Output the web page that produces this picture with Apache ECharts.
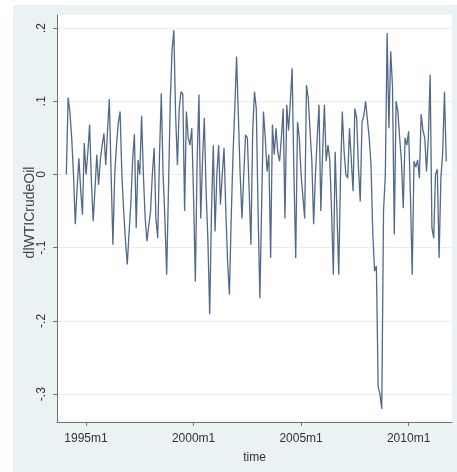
<!DOCTYPE html>
<html>
<head>
<meta charset="utf-8">
<script src="https://cdn.jsdelivr.net/npm/echarts@6/dist/echarts.min.js"></script>
<style>
  html, body { margin: 0; padding: 0; background: #ffffff; }
  #main { width: 457px; height: 472px; }
</style>
</head>
<body>
<div id="main"></div>
<script>
// monthly series, Stata %tm months (1960m1 = 0), first point 1994m2
var startMonth = 409
var dlWTI = [
  0.0, 0.105, 0.085, 0.05, 0.0, -0.068, -0.02, 0.022, -0.02, -0.055, 0.043,
  0.0, 0.03, 0.068, -0.01, -0.064, -0.02, 0.027, -0.014, 0.02, 0.04, 0.056, 0.013,
  0.06, 0.103, 0.0, -0.096, 0.0, 0.04, 0.07, 0.086, 0.0, -0.05, -0.09, -0.123,
  -0.08, -0.04, 0.02, 0.055, -0.073, 0.02, 0.0, 0.08, 0.0, -0.06, -0.091, -0.07,
  -0.05, 0.0, 0.036, -0.06, -0.087, 0.027, 0.111, 0.0, -0.06, -0.137, -0.02, 0.1,
  0.17, 0.197, 0.08, 0.013, 0.09, 0.113, 0.11, -0.05, 0.086, 0.05, 0.04, 0.063,
  -0.03, -0.146, 0.02, 0.109, -0.06, 0.02, 0.077, -0.023, -0.09, -0.191, -0.05, 0.04,
  -0.078, 0.0, 0.04, -0.041, 0.0, 0.036, -0.05, -0.12, -0.164, -0.06, 0.027, 0.09,
  0.161, 0.08, 0.0, -0.06, 0.0, 0.054, 0.05, -0.02, -0.096, 0.06, 0.113, 0.09,
  -0.05, -0.169, -0.04, 0.086, 0.05, 0.004, 0.027, -0.114, 0.068, 0.027, 0.063, 0.03,
  0.018, 0.05, 0.09, -0.06, 0.095, 0.06, 0.1, 0.145, 0.0, -0.114, 0.072, 0.05,
  0.0, -0.03, -0.06, 0.122, 0.104, 0.06, 0.018, -0.068, 0.0, 0.05, 0.095, -0.05,
  0.03, 0.095, 0.018, 0.04, 0.02, -0.05, -0.137, 0.031, -0.05, -0.137, 0.0, 0.086,
  0.031, 0.0, -0.005, 0.063, 0.02, -0.023, 0.09, 0.077, 0.01, -0.037, 0.072, 0.08,
  0.1, 0.1, 0.05, 0.013, -0.08, -0.132, -0.125, -0.29, -0.30, -0.32, -0.05, 0.0,
  0.193, 0.063, 0.168, 0.12, -0.082, 0.1, 0.086, 0.05, 0.018, -0.046, 0.05, 0.04,
  0.059, -0.028, -0.137, 0.018, 0.01, 0.02, -0.005, 0.082, 0.06, 0.05, 0.004, 0.05,
  0.136, -0.073, -0.087, 0.0, 0.007, -0.114, -0.005, 0.03, 0.113, 0.018
]
var xTickValues = [420, 480, 540, 600]
var xTickLabels = ['1995m1', '2000m1', '2005m1', '2010m1']
var yTickValues = [-0.3, -0.2, -0.1, 0, 0.1, 0.2]
var yTickLabels = ['-.3', '-.2', '-.1', '0', '.1', '.2']

var points = dlWTI.map(function (v, i) { return [startMonth + i, v] })

var myChart = echarts.init(document.getElementById('main'))
var option = {
  animation: false,
  backgroundColor: '#ffffff',
  textStyle: { fontFamily: 'Liberation Sans, Arial, sans-serif' },
  // stata graph region
  graphic: [
    {
      type: 'rect',
      z: -10,
      shape: { x: 13, y: 5, width: 444, height: 467 },
      style: { fill: '#eaf2f3' }
    }
  ],
  grid: {
    left: 57, top: 15, right: 5, bottom: 50,
    show: true, backgroundColor: '#ffffff', borderWidth: 0
  },
  xAxis: {
    type: 'value',
    min: 403.8,
    max: 624.2,
    name: 'time',
    nameLocation: 'middle',
    nameGap: 30,
    nameMoveOverlap: false,
    nameTextStyle: { fontSize: 12, color: '#333' },
    axisLine: { show: true, onZero: false, lineStyle: { color: '#707070', width: 1 } },
    axisTick: { show: true, length: 4, customValues: xTickValues, lineStyle: { color: '#707070' } },
    axisLabel: {
      customValues: xTickValues,
      margin: 11,
      fontSize: 12,
      color: '#333',
      formatter: function (v) { return xTickLabels[xTickValues.indexOf(v)] }
    },
    splitLine: { show: false }
  },
  yAxis: {
    type: 'value',
    min: -0.338,
    max: 0.2177,
    name: 'dlWTICrudeOil',
    nameLocation: 'middle',
    nameGap: 20,
    nameMoveOverlap: false,
    nameRotate: 90,
    nameTextStyle: { fontSize: 14, color: '#444', padding: [0, 0, 0, 12] },
    axisLine: { show: true, lineStyle: { color: '#707070', width: 1 } },
    axisTick: { show: true, length: 4, customValues: yTickValues, lineStyle: { color: '#707070' } },
    axisLabel: {
      customValues: yTickValues,
      rotate: 90,
      margin: 9,
      fontSize: 12,
      color: '#333',
      formatter: function (v) {
        for (var i = 0; i < yTickValues.length; i++) {
          if (Math.abs(yTickValues[i] - v) < 1e-6) return yTickLabels[i]
        }
        return ''
      }
    },
    splitLine: { show: true, lineStyle: { color: '#e6eef0', width: 1 } }
  },
  series: [
    {
      type: 'line',
      data: points,
      showSymbol: false,
      lineStyle: { color: '#52698a', width: 1.3 }
    }
  ]
}
myChart.setOption(option)
</script>
</body>
</html>
